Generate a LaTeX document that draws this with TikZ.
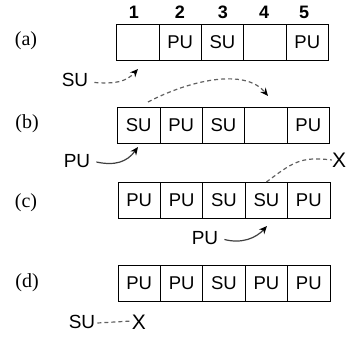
\documentclass[tikz,border=0pt]{standalone}
\usepackage{fontspec}
\setmainfont{Liberation Sans}
\newfontfamily\serifx{Liberation Serif}
\usetikzlibrary{arrows.meta}
\begin{document}
\begin{tikzpicture}[x=1pt,y=-1pt,
  cell/.style={draw, line width=0.8pt, minimum width=42.4pt, minimum height=36pt,
    inner sep=0pt, outer sep=0pt, anchor=north west, text height=13pt, text depth=0pt,
    font=\fontsize{18.5}{20}\selectfont},
  rowlabel/.style={inner sep=0pt, font=\serifx\fontsize{20}{22}\selectfont},
  numlabel/.style={inner sep=0pt, font=\bfseries\fontsize{18}{20}\selectfont},
  txt/.style={inner sep=0pt, text height=13pt, text depth=0pt, font=\fontsize{19}{20}\selectfont},
  xmark/.style={inner sep=0pt, text height=15pt, text depth=0pt, font=\fontsize{21}{22}\selectfont},
  dashline/.style={draw=black!62, line width=1.2pt, dash pattern=on 4pt off 3pt},
  solidline/.style={draw=black!75, line width=1.2pt},
  tip/.style={-{Stealth[length=8pt,width=7pt,color=black]}}
]
\useasboundingbox (0,0) rectangle (347,339);

% numbers
\node[numlabel] (n1) at (134,12.5) {1};
\node[numlabel] (n2) at (180,12.5) {2};
\node[numlabel] (n3) at (223,12.5) {3};
\node[numlabel] (n4) at (264,12.5) {4};
\node[numlabel] (n5) at (304,12.5) {5};

% row labels
\node[rowlabel] (la) at (26,41) {(a)};
\node[rowlabel] (lb) at (27,124) {(b)};
\node[rowlabel] (lc) at (26,203) {(c)};
\node[rowlabel] (ld) at (27,283) {(d)};

% row (a)
\node[cell] (a1) at (116.5,24.5) {};
\node[cell] (a2) at (a1.north east) {PU};
\node[cell] (a3) at (a2.north east) {SU};
\node[cell] (a4) at (a3.north east) {};
\node[cell] (a5) at (a4.north east) {PU};

% row (b)
\node[cell] (b1) at (117.5,107) {SU};
\node[cell] (b2) at (b1.north east) {PU};
\node[cell] (b3) at (b2.north east) {SU};
\node[cell] (b4) at (b3.north east) {};
\node[cell] (b5) at (b4.north east) {PU};

% row (c)
\node[cell] (c1) at (118,182) {PU};
\node[cell] (c2) at (c1.north east) {PU};
\node[cell] (c3) at (c2.north east) {SU};
\node[cell] (c4) at (c3.north east) {SU};
\node[cell] (c5) at (c4.north east) {PU};

% row (d)
\node[cell] (d1) at (118,265) {PU};
\node[cell] (d2) at (d1.north east) {PU};
\node[cell] (d3) at (d2.north east) {SU};
\node[cell] (d4) at (d3.north east) {PU};
\node[cell] (d5) at (d4.north east) {PU};

% (a) SU arriving
\node[txt] (sua) at (75,80.5) {SU};
\coordinate (ta) at (138,69);
\draw[dashline, tip] (sua.east) ++(6,2) .. controls (115,84) and (126,82) .. (ta);

% (a)->(b) move arc
\coordinate (sb) at (148,102);
\coordinate (tb) at (268,96);
\draw[dashline, tip] (sb) .. controls (190,80) and (245,68) .. (tb);

% (b) PU arriving
\node[txt] (pub) at (77,161) {PU};
\coordinate (tpb) at (138,147);
\draw[solidline, tip] (pub.east) ++(6,1) .. controls (115,166) and (127,162) .. (tpb);

% (c) SU dropped
\node[xmark] (xc) at (339,160) {X};
\draw[dashline] (c4.north) .. controls (292,163) and (300,156) .. (xc.west);

% (c) PU arriving
\node[txt] (puc) at (205,237.5) {PU};
\coordinate (tpc) at (267,226);
\draw[solidline, tip] (puc.east) ++(6,2) .. controls (242,244) and (256,238) .. (tpc);

% (d) SU blocked
\node[txt] (sud) at (82,322) {SU};
\node[xmark] (xd) at (139,322) {X};
\draw[dashline] (sud.east) ++(2,1) -- ([yshift=1pt]xd.west);
\end{tikzpicture}
\end{document}
